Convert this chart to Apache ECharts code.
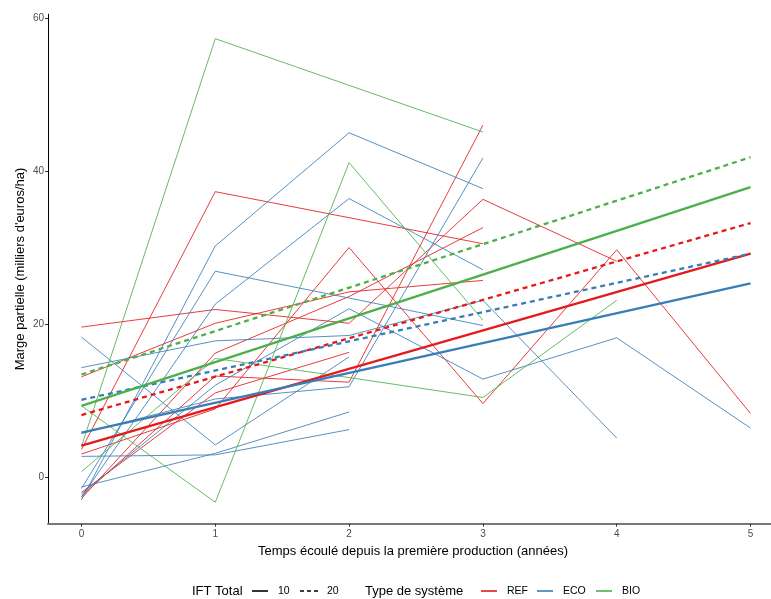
<!DOCTYPE html>
<html>
<head>
<meta charset="utf-8">
<script src="https://cdn.jsdelivr.net/npm/echarts@6/dist/echarts.min.js"></script>
<style>
html,body{margin:0;padding:0;background:#fff;}
#chart{width:771px;height:599px;}
</style>
</head>
<body>
<div id="chart"></div>
<script>
// ---- data ----
const years = [0, 1, 2, 3, 4, 5];
const fitYears = [0, 5];
const xTicks = [0, 1, 2, 3, 4, 5];
const yTicks = [0, 20, 40, 60];

// REF farms (values by year, null = no observation)
const ref1 = [19.6, 21.9, 20.1, 36.3, 28.2, null];
const ref2 = [13.1, 20.1, 24.2, 25.7, null, null];
const ref3 = [3.6, 37.3, null, 30.5, null, null];
const ref4 = [-2.5, 13.2, 12.4, 46.0, null, null];
const ref5 = [-2.8, 16.2, 23.6, 32.6, null, null];
const ref6 = [-2.0, 11.0, 16.3, null, null, null];
const ref7 = [3.0, 8.9, 30.0, 9.6, 29.7, 8.3];

// ECO farms
const eco1 = [18.3, 4.2, 15.7, null, null, null];
const eco2 = [14.3, 17.8, 18.5, 23.1, 5.1, null];
const eco3 = [-1.5, 26.9, 23.4, 19.8, null, null];
const eco4 = [-3.0, 30.2, 45.0, 37.7, null, null];
const eco5 = [-2.6, 22.6, 36.4, 27.1, null, null];
const eco6 = [5.7, 10.2, 11.8, 41.7, null, null];
const eco7 = [-1.3, 3.1, 8.5, null, null, null];
const eco8 = [2.7, 2.9, 6.2, null, null, null];
const eco9 = [-2.2, 12.0, 22.0, 12.8, 18.2, 6.4];

// BIO farms
const bio1 = [4.0, 57.3, null, 45.1, null, null];
const bio2 = [9.3, -3.3, 41.1, 20.5, null, null];
const bio3 = [0.7, 15.5, 13.0, 10.4, 23.1, null];

// model predictions (IFT Total = 10 / 20)
const fitRef10 = [4.1, 29.2];
const fitRef20 = [8.1, 33.2];
const fitEco10 = [5.8, 25.3];
const fitEco20 = [10.1, 29.2];
const fitBio10 = [9.3, 37.9];
const fitBio20 = [13.4, 41.8];

const systemNames = ['REF', 'ECO', 'BIO'];
const iftNames = ['10', '20'];

// ---- build ----
const COL = {REF: '#E41A1C', ECO: '#377EB8', BIO: '#4DAF4A'};
function pts(vals, xs) {
  const out = [];
  vals.forEach((v, i) => { if (v !== null && v !== undefined) out.push([xs[i], v]); });
  return out;
}
const farms = [
  ['REF', [ref1, ref2, ref3, ref4, ref5, ref6, ref7]],
  ['ECO', [eco1, eco2, eco3, eco4, eco5, eco6, eco7, eco8, eco9]],
  ['BIO', [bio1, bio2, bio3]]
];
const series = [];
farms.forEach(([sys, list]) => {
  list.forEach((arr, k) => {
    series.push({
      type: 'line', name: sys + '_' + k, data: pts(arr, years),
      symbol: 'none', silent: true, animation: false, z: 2,
      lineStyle: {color: COL[sys], width: 1, opacity: 0.85}
    });
  });
});
const fits = [
  ['REF', '10', fitRef10], ['REF', '20', fitRef20],
  ['ECO', '10', fitEco10], ['ECO', '20', fitEco20],
  ['BIO', '10', fitBio10], ['BIO', '20', fitBio20]
];
fits.forEach(([sys, ift, arr]) => {
  series.push({
    type: 'line', name: sys + ' IFT ' + ift, data: pts(arr, fitYears),
    symbol: 'none', silent: true, animation: false, z: 3,
    lineStyle: {color: COL[sys], width: 2.3, type: ift === '10' ? 'solid' : [5, 4]}
  });
});

const FONT = '"Liberation Sans", Arial, sans-serif';
const LY = 591;
const graphic = [
  {type: 'text', x: 20, y: 269, rotation: Math.PI / 2,
   style: {text: "Marge partielle (milliers d'euros/ha)", font: '13px ' + FONT, fill: '#000', align: 'center', verticalAlign: 'middle'}},
  {type: 'text', x: 413, y: 551,
   style: {text: 'Temps écoulé depuis la première production (années)', font: '13px ' + FONT, fill: '#000', align: 'center', verticalAlign: 'middle'}},
  {type: 'text', x: 192, y: LY, style: {text: 'IFT Total', font: '13px ' + FONT, fill: '#000', verticalAlign: 'middle'}},
  {type: 'line', shape: {x1: 252, y1: LY, x2: 268, y2: LY}, style: {stroke: '#000', lineWidth: 1.6}},
  {type: 'text', x: 278, y: LY, style: {text: iftNames[0], font: '10.5px ' + FONT, fill: '#000', verticalAlign: 'middle'}},
  {type: 'line', shape: {x1: 300, y1: LY, x2: 320, y2: LY}, style: {stroke: '#000', lineWidth: 1.6, lineDash: [4, 3]}},
  {type: 'text', x: 327, y: LY, style: {text: iftNames[1], font: '10.5px ' + FONT, fill: '#000', verticalAlign: 'middle'}},
  {type: 'text', x: 365, y: LY, style: {text: 'Type de système', font: '13px ' + FONT, fill: '#000', verticalAlign: 'middle'}}
];
const legX = [[481, 507], [537, 563], [596, 622]];
systemNames.forEach((s, i) => {
  graphic.push({type: 'line', shape: {x1: legX[i][0], y1: LY, x2: legX[i][0] + 16, y2: LY}, style: {stroke: COL[s], lineWidth: 1.6}});
  graphic.push({type: 'text', x: legX[i][1], y: LY, style: {text: s, font: '10.5px ' + FONT, fill: '#000', verticalAlign: 'middle'}});
});

const chart = echarts.init(document.getElementById('chart'), null, {renderer: 'canvas'});
chart.setOption({
  backgroundColor: '#fff',
  animation: false,
  textStyle: {fontFamily: FONT},
  grid: {left: 48, right: -13, top: 14.2, bottom: 75.3, containLabel: false, outerBoundsMode: 'none'},
  xAxis: {
    type: 'value', min: -0.25, max: 5.25,
    axisLine: {show: true, onZero: false, lineStyle: {color: '#777', width: 2}},
    axisTick: {show: true, customValues: xTicks, length: 3, lineStyle: {color: '#333'}},
    axisLabel: {customValues: xTicks, color: '#4D4D4D', fontSize: 10, margin: 6, fontFamily: FONT},
    splitLine: {show: false}
  },
  yAxis: {
    type: 'value', min: -6.1, max: 60.5,
    axisLine: {show: true, onZero: false, lineStyle: {color: '#000', width: 1}},
    axisTick: {show: true, customValues: yTicks, length: 3, lineStyle: {color: '#333'}},
    axisLabel: {customValues: yTicks, color: '#4D4D4D', fontSize: 10, margin: 4, fontFamily: FONT},
    splitLine: {show: false}
  },
  series: series,
  graphic: graphic
});
</script>
</body>
</html>
